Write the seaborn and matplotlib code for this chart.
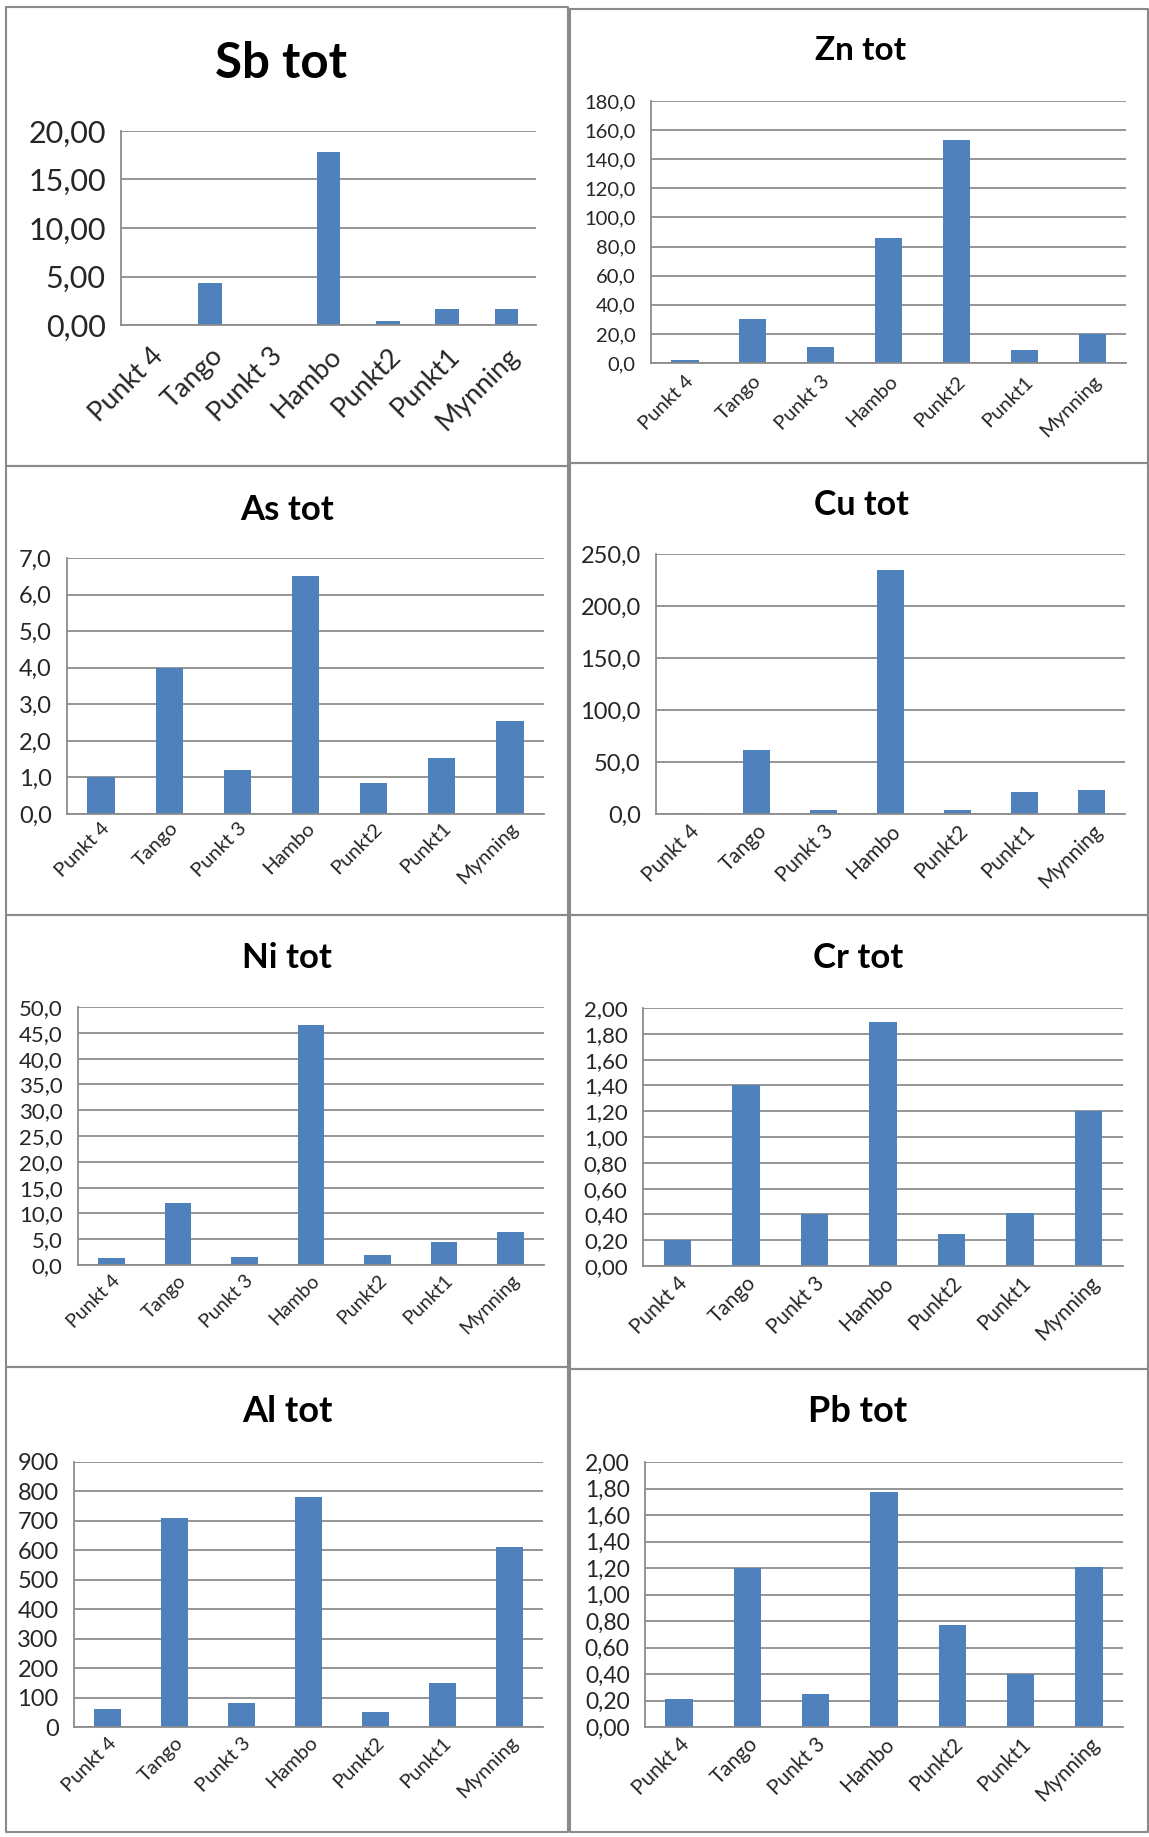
import matplotlib
matplotlib.use("Agg")
import matplotlib.pyplot as plt
from matplotlib.lines import Line2D
from matplotlib.ticker import FuncFormatter, FixedLocator
import seaborn as sns

sns.set_style("white")
plt.rcParams["font.family"] = ["Lato", "DejaVu Sans"]

# Sampling sites along the stream
categories = ["Punkt 4", "Tango", "Punkt 3", "Hambo", "Punkt2", "Punkt1", "Mynning"]

# Total concentrations per metal
sb_tot = [0.0, 4.3, 0.0, 17.8, 0.4, 1.7, 1.7]
zn_tot = [2.0, 30.0, 11.0, 86.0, 153.0, 9.0, 20.0]
as_tot = [1.0, 4.0, 1.2, 6.5, 0.85, 1.52, 2.55]
cu_tot = [1.0, 62.0, 4.0, 235.0, 4.0, 21.0, 23.0]
ni_tot = [1.3, 12.0, 1.5, 46.6, 2.0, 4.5, 6.3]
cr_tot = [0.20, 1.40, 0.40, 1.89, 0.25, 0.41, 1.20]
al_tot = [60, 710, 82, 780, 50, 148, 610]
pb_tot = [0.21, 1.20, 0.25, 1.77, 0.77, 0.40, 1.21]

titles = ["Sb tot", "Zn tot", "As tot", "Cu tot", "Ni tot", "Cr tot", "Al tot", "Pb tot"]
y_max = [20, 180, 7, 250, 50, 2.0, 900, 2.0]
y_step = [5, 20, 1, 50, 5, 0.2, 100, 0.2]
y_decimals = [2, 1, 1, 1, 1, 2, 0, 2]

W, H = 1149, 1837
BAR = "#4F81BD"
GRID = "#8C8C8C"

fig = plt.figure(figsize=(W / 100, H / 100), dpi=100)
fig.patch.set_facecolor("white")

# plot areas in pixels: left, top, right, zero-line
areas = [
    (121, 131, 536, 325),
    (651, 101, 1126, 363),
    (67, 558, 544, 814),
    (656, 554, 1125, 814),
    (78, 1007, 544, 1265),
    (643, 1008, 1123, 1266),
    (74, 1462, 543, 1727),
    (645, 1462, 1123, 1727),
]
title_pos = [(281, 64), (861, 50), (287, 510), (861, 505),
             (287, 958), (858, 958), (287, 1411), (858, 1411)]
ytick_sizes = [22, 14.5, 17, 17, 16, 16, 17, 16.5]
xtick_sizes = [19.5, 14.5, 14.5, 15, 14, 15, 14.5, 15]
xtick_pads = [13, 7, 4, 5, 5, 5, 5, 5]
title_sizes = [35.5, 24, 25, 24.5, 25, 25, 26, 26]

series = [sb_tot, zn_tot, as_tot, cu_tot, ni_tot, cr_tot, al_tot, pb_tot]

for i, vals in enumerate(series):
    l, t, r, b = areas[i]
    ax = fig.add_axes([l / W, 1 - b / H, (r - l) / W, (b - t) / H])
    sns.barplot(x=categories, y=vals, color=BAR, width=0.4, ax=ax,
                saturation=1, edgecolor="none")

    ax.set_xlim(-0.5, len(categories) - 0.5)
    ax.set_ylim(0, y_max[i])
    n = int(round(y_max[i] / y_step[i]))
    yt = [k * y_step[i] for k in range(n + 1)]
    ax.set_yticks(yt)
    d = y_decimals[i]
    ax.yaxis.set_major_formatter(
        FuncFormatter(lambda v, p, d=d: f"{v:.{d}f}".replace(".", ",")))
    ax.yaxis.grid(True, color=GRID, linewidth=1.3)
    ax.set_axisbelow(True)
    ax.tick_params(axis="y", which="major", length=6, width=1.1, color=GRID,
                   direction="out", labelsize=ytick_sizes[i], labelcolor="#262626", pad=5)

    # category boundary ticks on the x axis
    ax.xaxis.set_minor_locator(FixedLocator([k - 0.5 for k in range(len(categories) + 1)]))
    ax.tick_params(axis="x", which="minor", length=7, width=1.1, color=GRID, direction="out")
    ax.tick_params(axis="x", which="major", length=0, labelsize=xtick_sizes[i],
                   labelcolor="#262626", pad=xtick_pads[i])
    for lab in ax.get_xticklabels():
        lab.set_rotation(45)
        lab.set_ha("right")
        lab.set_rotation_mode("anchor")

    for s in ["top", "right"]:
        ax.spines[s].set_visible(False)
    for s in ["left", "bottom"]:
        ax.spines[s].set_color(GRID)
        ax.spines[s].set_linewidth(1.3)
    ax.set_xlabel("")
    ax.set_ylabel("")
    ax.patch.set_alpha(0)

    tx, ty = title_pos[i]
    fig.text(tx / W, 1 - ty / H, titles[i], ha="center", va="center",
             fontsize=title_sizes[i], fontweight="bold", color="black")

# panel frames
frames = [
    (6, 7, 568, 466), (570, 9, 1148, 463),
    (6, 466, 568, 915), (570, 463, 1148, 915),
    (6, 915, 568, 1367), (570, 915, 1148, 1369),
    (6, 1367, 568, 1832), (570, 1369, 1148, 1832),
]
for x0, y0, x1, y1 in frames:
    xs = [x0 / W, x1 / W, x1 / W, x0 / W, x0 / W]
    ys = [1 - y0 / H, 1 - y0 / H, 1 - y1 / H, 1 - y1 / H, 1 - y0 / H]
    fig.add_artist(Line2D(xs, ys, color="#8A8A8A", linewidth=1.5))

fig.savefig("out.png", dpi=100, facecolor="white")
